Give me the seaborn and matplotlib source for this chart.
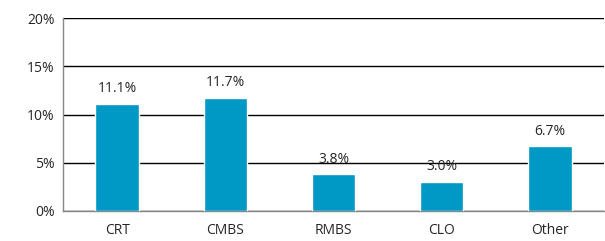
import matplotlib
matplotlib.use('Agg')
import matplotlib.pyplot as plt
import seaborn as sns
import pandas as pd
from matplotlib.ticker import PercentFormatter, FixedLocator

categories = ['CRT', 'CMBS', 'RMBS', 'CLO', 'Other']
values = [11.1, 11.7, 3.8, 3.0, 6.7]

df = pd.DataFrame({'category': categories, 'value': values})

sns.set_style('white')
plt.rcParams['font.family'] = ['Open Sans', 'DejaVu Sans']
plt.rcParams['font.size'] = 10

fig = plt.figure(figsize=(6.05, 2.41), dpi=100)
ax = fig.add_axes([63 / 605, 30 / 241, 541 / 605, 193 / 241])

sns.barplot(data=df, x='category', y='value', color='#0098C4', width=0.4,
            saturation=1, ax=ax, zorder=3)

for i, v in enumerate(values):
    ax.text(i, v + 0.8, f'{v:.1f}%', ha='center', va='bottom', fontsize=10)

ax.set_ylim(0, 20)
ax.set_xlim(-0.5, 4.5)
ax.set_yticks([0, 5, 10, 15, 20])
ax.yaxis.set_major_formatter(PercentFormatter(decimals=0))
ax.yaxis.grid(True, color='black', linewidth=1, zorder=1)
ax.set_axisbelow(True)

ax.xaxis.set_major_locator(FixedLocator(range(5)))
ax.xaxis.set_minor_locator(FixedLocator([-0.5, 0.5, 1.5, 2.5, 3.5, 4.5]))
ax.tick_params(axis='x', which='major', length=0, pad=9)
ax.tick_params(axis='x', which='minor', length=4, color='#888888', width=1, direction='out')
ax.tick_params(axis='y', length=3, color='#888888', direction='out', pad=3)
ax.set_xticklabels(categories)

ax.set_xlabel('')
ax.set_ylabel('')
for side in ['top', 'right']:
    ax.spines[side].set_visible(False)
for side in ['left', 'bottom']:
    ax.spines[side].set_color('#888888')
    ax.spines[side].set_linewidth(1)

fig.savefig('out.png', dpi=100)
